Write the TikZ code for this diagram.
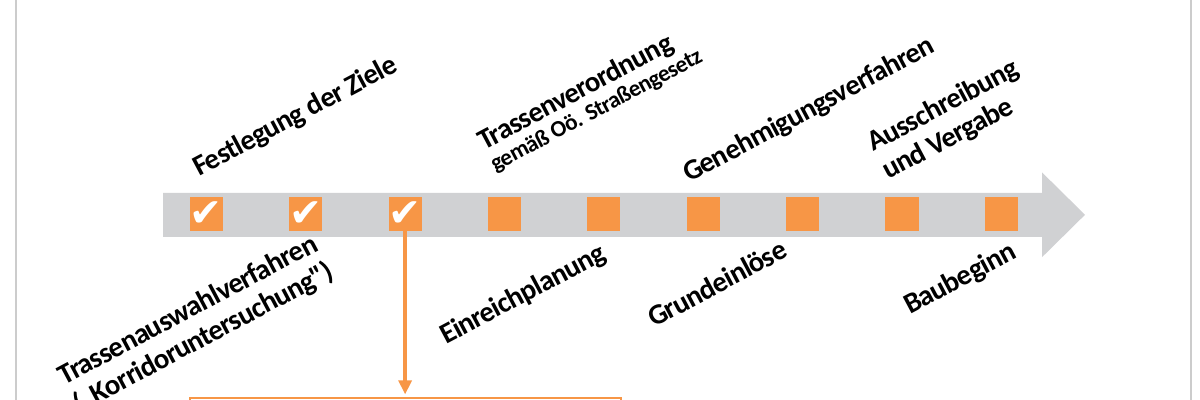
\documentclass[tikz,border=0pt]{standalone}
\usepackage{fontspec}
\setmainfont{Carlito}
\newfontfamily\labelfont[LetterSpace=-2.5]{Carlito}
\newfontfamily\symfont{DejaVu Sans}
\usetikzlibrary{positioning,arrows.meta}
\definecolor{akzent}{RGB}{247,150,70}
\definecolor{balken}{RGB}{208,209,211}
\newcommand{\mchk}{{\symfont\char"2714}}

\begin{document}
\begin{tikzpicture}
    \tikzstyle{kasten}=[fill=akzent, minimum size=0.83cm, inner sep=0pt, text=white, font=\fontsize{28}{28}\selectfont]
    \tikzstyle{etikett}=[rotate=28, anchor=base west, inner sep=0pt, align=left, font=\labelfont\bfseries\fontsize{20.5}{22.5}\selectfont]
    \tikzstyle{zielbox}=[draw=akzent, line width=1.5pt, fill=white, minimum width=10.775cm, minimum height=1cm]
    \useasboundingbox (0,0) rectangle (30,10);
    % Rahmen
    \draw[line width=2pt, black!20] (0.4,0) -- (0.4,10);
    \draw[line width=2pt, black!20] (29.775,0) -- (29.775,10);
    % Zeitstrahl
    \fill[balken] (4.075,4.08) -- (26.05,4.08) -- (26.05,3.57) -- (27.125,4.63)
        -- (26.05,5.69) -- (26.05,5.18) -- (4.075,5.18) -- cycle;
    % Schritte
    \node[kasten] (s1) at (5.16,4.65) {\mchk};
    \node[kasten, right=1.64cm of s1] (s2) {\mchk};
    \node[kasten, right=1.64cm of s2] (s3) {\mchk};
    \node[kasten, right=1.64cm of s3] (s4) {};
    \node[kasten, right=1.64cm of s4] (s5) {};
    \node[kasten, right=1.64cm of s5] (s6) {};
    \node[kasten, right=1.64cm of s6] (s7) {};
    \node[kasten, right=1.64cm of s7] (s8) {};
    \node[kasten, right=1.64cm of s8] (s9) {};
    % Ziel
    \node[zielbox, below=4.16cm of s3] (ziel) {};
    \draw[akzent, line width=2.4pt, -{Triangle[length=0.35cm,width=0.32cm]}, shorten >=0.07cm] (s3.south) -- (ziel.north);
    % oben
    \node[etikett] (ziele) at (4.975,5.575) {Festlegung der Ziele};
    \node[etikett] (verordnung) at (12.375,5.7) {Trassenverordnung\\[-5.5pt]{\fontsize{16.5}{18}\selectfont gemäß Oö. Straßengesetz}};
    \node[etikett] (genehmigung) at (17.225,5.425) {Genehmigungsverfahren};
    \node[etikett] (vergabe) at (22.2,5.5) {Ausschreibung\\und Vergabe};
    % unten
    \node[etikett] (auswahl) at (1.975,-0.34) {Trassenauswahlverfahren\\(„Korridoruntersuchung")};
    \node[etikett] (einreichung) at (11.15,1.375) {Einreichplanung};
    \node[etikett] (grund) at (16.35,1.8) {Grundeinlöse};
    \node[etikett] (bau) at (22.75,2.125) {Baubeginn};
\end{tikzpicture}
\end{document}
